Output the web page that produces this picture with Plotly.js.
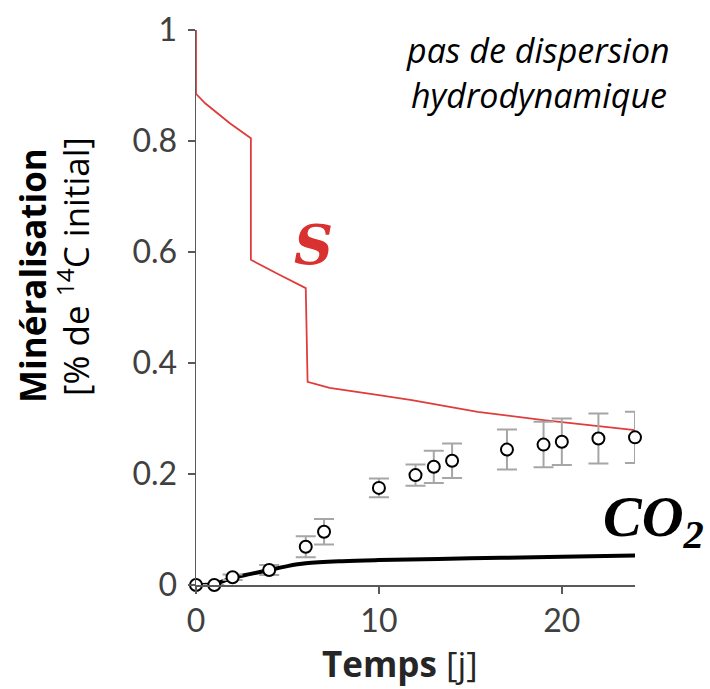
<!DOCTYPE html>
<html>
<head>
<meta charset="utf-8">
<script src="https://cdn.plot.ly/plotly-3.0.1.min.js"></script>
<style>html,body{margin:0;padding:0;background:#fff;}#chart{width:710px;height:689px;}</style>
</head>
<body>
<div id="chart"></div>
<script>
// Modelled substrate S (red line)
const sTime  = [0, 0, 0.5, 1.85, 3, 3, 4.56, 6, 6.1, 7.3, 10, 11.8, 15.4, 19, 24];
const sModel = [1, 0.885, 0.868, 0.832, 0.805, 0.586, 0.559, 0.535, 0.366, 0.355, 0.342, 0.333, 0.312, 0.297, 0.279];

// Modelled CO2 mineralisation (black line)
const co2Time  = [0, 1, 1.5, 2, 3, 4, 5, 6, 8, 10, 15, 20, 24];
const co2Model = [0, 0.002, 0.007, 0.013, 0.02, 0.027, 0.034, 0.039, 0.043, 0.045, 0.048, 0.051, 0.053];

// Observed mineralisation (circles with error bars)
const obsTime = [0, 1, 2, 4, 6, 7, 10, 12, 13, 14, 17, 19, 20, 22, 24];
const obsMin  = [0, 0, 0.014, 0.027, 0.069, 0.096, 0.175, 0.198, 0.213, 0.224, 0.244, 0.253, 0.258, 0.264, 0.266];
const obsErr  = [0, 0, 0.005, 0.009, 0.019, 0.023, 0.017, 0.019, 0.029, 0.031, 0.036, 0.041, 0.042, 0.045, 0.046];

const xTicks = [0, 10, 20];
const yTicks = [0, 0.2, 0.4, 0.6, 0.8, 1];
const yTickText = ['0', '0.2', '0.4', '0.6', '0.8', '1'];

const sans = 'Lato, "Open Sans", sans-serif';
const open = '"Open Sans", Lato, sans-serif';
const serif = '"DejaVu Serif", "Liberation Serif", serif';
const tserif = '"Liberation Serif", "DejaVu Serif", serif';

const traces = [
  {x: sTime, y: sModel, mode: 'lines', line: {color: '#e03c3c', width: 1.8}, cliponaxis: false, hoverinfo: 'skip'},
  {x: co2Time, y: co2Model, mode: 'lines', line: {color: '#000', width: 4, shape: 'spline'}, cliponaxis: false, hoverinfo: 'skip'},
  {x: obsTime, y: obsMin, mode: 'markers', cliponaxis: false,
   marker: {size: 12, color: '#fff', line: {color: '#000', width: 2}},
   error_y: {type: 'data', array: obsErr, visible: true, color: '#a6a6a6', thickness: 2, width: 10}}
];

const layout = {
  width: 710, height: 689,
  margin: {l: 196, r: 75, t: 30, b: 104},
  paper_bgcolor: '#fff', plot_bgcolor: '#fff',
  showlegend: false,
  font: {family: sans, color: '#404040'},
  xaxis: {
    range: [0, 24], tickvals: xTicks, ticktext: xTicks.map(String),
    showgrid: false, zeroline: false, showline: true, linecolor: '#595959', linewidth: 1.5,
    ticks: 'outside', ticklen: 7, tickwidth: 1.5, tickcolor: '#595959',
    tickfont: {family: sans, size: 32, color: '#404040'}
  },
  yaxis: {
    range: [0, 1], tickvals: yTicks, ticktext: yTickText,
    showgrid: false, zeroline: false, showline: true, linecolor: '#595959', linewidth: 1.5,
    ticks: 'outside', ticklen: 7, tickwidth: 1.5, tickcolor: '#595959', ticklabelstandoff: 4,
    tickfont: {family: sans, size: 32, color: '#404040'}
  },
  annotations: [
    {text: '<b>Minéralisation</b>', xref: 'paper', yref: 'paper', x: -0.3713, y: 0.5586, textangle: -90,
     showarrow: false, xanchor: 'center', yanchor: 'middle', font: {family: open, size: 35, color: '#000'}},
    {text: '[% de <sup>14</sup>C initial]', xref: 'paper', yref: 'paper', x: -0.2779, y: 0.573, textangle: -90,
     showarrow: false, xanchor: 'center', yanchor: 'middle', font: {family: open, size: 35, color: '#000'}},
    {text: '<b>Temps</b> [j]', xref: 'paper', yref: 'paper', x: 0.4658, y: -0.141,
     showarrow: false, xanchor: 'center', yanchor: 'middle', font: {family: open, size: 35, color: '#262626'}},
    {text: '<i>pas de dispersion</i>', xref: 'paper', yref: 'paper', x: 0.778, y: 0.964,
     showarrow: false, xanchor: 'center', yanchor: 'middle', font: {family: open, size: 34, color: '#000'}},
    {text: '<i>hydrodynamique</i>', xref: 'paper', yref: 'paper', x: 0.781, y: 0.883,
     showarrow: false, xanchor: 'center', yanchor: 'middle', font: {family: open, size: 34, color: '#000'}},
    {text: '<b><i>S</i></b>', xref: 'paper', yref: 'paper', x: 0.267, y: 0.613,
     showarrow: false, xanchor: 'center', yanchor: 'middle', font: {family: serif, size: 54, color: '#d93030'}},
    {text: '<b><i>CO<sub>2</sub></i></b>', xref: 'paper', yref: 'paper', x: 1.1617, y: 0.117,
     showarrow: false, xanchor: 'right', yanchor: 'middle', font: {family: tserif, size: 58, color: '#000'}}
  ]
};

Plotly.newPlot('chart', traces, layout, {displayModeBar: false, staticPlot: true});
</script>
</body>
</html>
